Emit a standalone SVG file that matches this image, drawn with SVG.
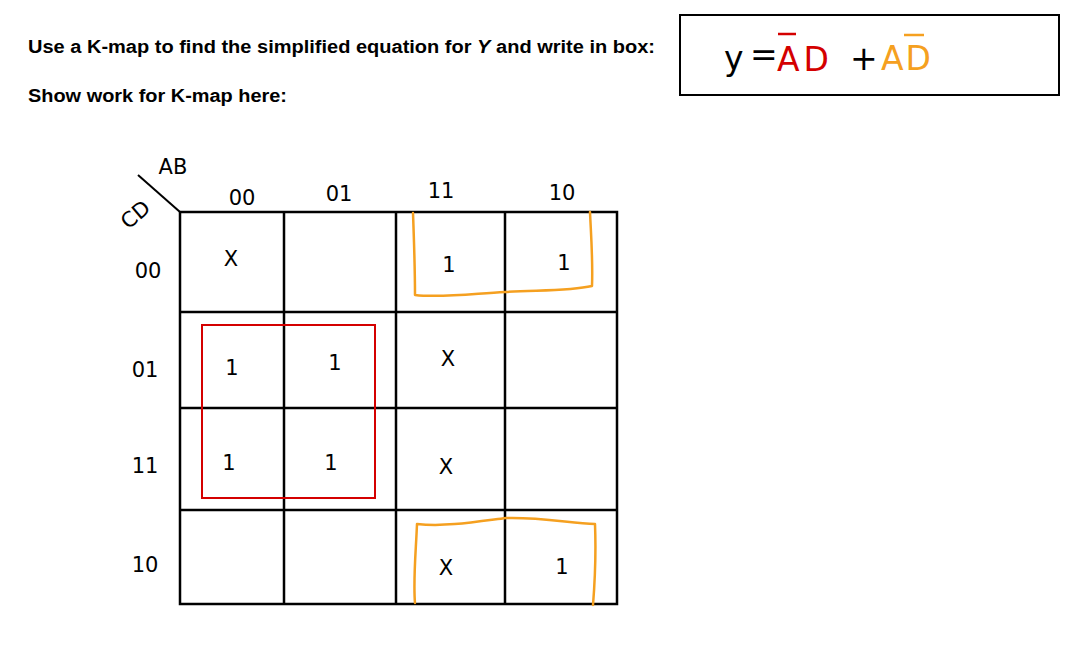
<svg xmlns="http://www.w3.org/2000/svg" width="1085" height="656" viewBox="0 0 1085 656">
<style>
.hdr{font-family:"Liberation Sans",Arial,sans-serif;font-weight:bold;font-size:18px;fill:#000}
.hw{font-family:"DejaVu Sans","Liberation Sans",sans-serif;font-weight:normal;font-size:21px;fill:#000;text-anchor:middle}
.eq{font-family:"DejaVu Sans","Liberation Sans",sans-serif;font-weight:normal;font-size:33px}
.grid{stroke:#000;stroke-width:2.5;fill:none}
.red{stroke:#d40000;stroke-width:2;fill:none}
.org{stroke:#f5a020;stroke-width:2.5;fill:none;stroke-linecap:round;stroke-linejoin:round}
</style>
<rect width="1085" height="656" fill="#fff"/>
<g id="header">
<text class="hdr" x="28" y="53" textLength="627" lengthAdjust="spacingAndGlyphs">Use a K-map to find the simplified equation for <tspan font-style="italic">Y</tspan> and write in box:</text>
<text class="hdr" x="28" y="102" textLength="259" lengthAdjust="spacingAndGlyphs">Show work for K-map here:</text>
</g>
<g id="answer-box">
<rect x="680" y="15" width="379" height="80" fill="none" stroke="#000" stroke-width="2"/>
<text class="eq" x="724" y="70" fill="#000">y</text>
<text class="eq" x="750" y="66" font-size="20" fill="#000">=</text>
<text class="eq" x="777" y="71" fill="#d40000" letter-spacing="4">AD</text>
<line x1="778" y1="34" x2="796" y2="34" stroke="#d40000" stroke-width="2.5"/>
<text class="eq" x="850" y="70" font-size="26" fill="#000">+</text>
<text class="eq" x="881" y="70" fill="#f5a020" letter-spacing="2">AD</text>
<line x1="904" y1="35" x2="924" y2="35" stroke="#f5a020" stroke-width="2.5"/>
</g>
<g id="kmap-grid">
<path class="grid" d="M180,212 H617 V604 H180 Z M284,212 V604 M396,212 V604 M505,212 V604 M180,312 H617 M180,408 H617 M180,510 H617"/>
<line x1="138" y1="175" x2="180" y2="212" stroke="#000" stroke-width="2"/>
</g>
<g id="axis-labels">
<text class="hw" x="173" y="174">AB</text>
<text class="hw" x="135" y="222" transform="rotate(-40 135 214)">CD</text>
</g>
<g id="col-headers">
<text class="hw" x="242" y="205">00</text>
<text class="hw" x="339" y="201">01</text>
<text class="hw" x="441" y="198">11</text>
<text class="hw" x="562" y="200">10</text>
</g>
<g id="row-headers">
<text class="hw" x="148" y="278">00</text>
<text class="hw" x="145" y="377">01</text>
<text class="hw" x="145" y="473">11</text>
<text class="hw" x="145" y="572">10</text>
</g>
<g id="cells">
<text class="hw" x="231" y="266">X</text>
<text class="hw" x="449" y="272">1</text>
<text class="hw" x="564" y="270">1</text>
<text class="hw" x="232" y="375">1</text>
<text class="hw" x="335" y="370">1</text>
<text class="hw" x="448" y="366">X</text>
<text class="hw" x="229" y="470">1</text>
<text class="hw" x="331" y="470">1</text>
<text class="hw" x="446" y="474">X</text>
<text class="hw" x="446" y="575">X</text>
<text class="hw" x="562" y="574">1</text>
</g>
<g id="groups">
<rect class="red" x="202" y="325" width="173" height="173"/>
<path class="org" d="M413,213 C414,240 415,270 415,295 C440,298 470,294 505,292 C540,290 570,291 592,286 C593,260 591,235 590,212"/>
<path class="org" d="M415,603 C413,580 416,550 417,524 C445,527 475,522 506,518 C540,517 570,523 595,524 C596,550 595,580 593,605"/>
</g>
</svg>
